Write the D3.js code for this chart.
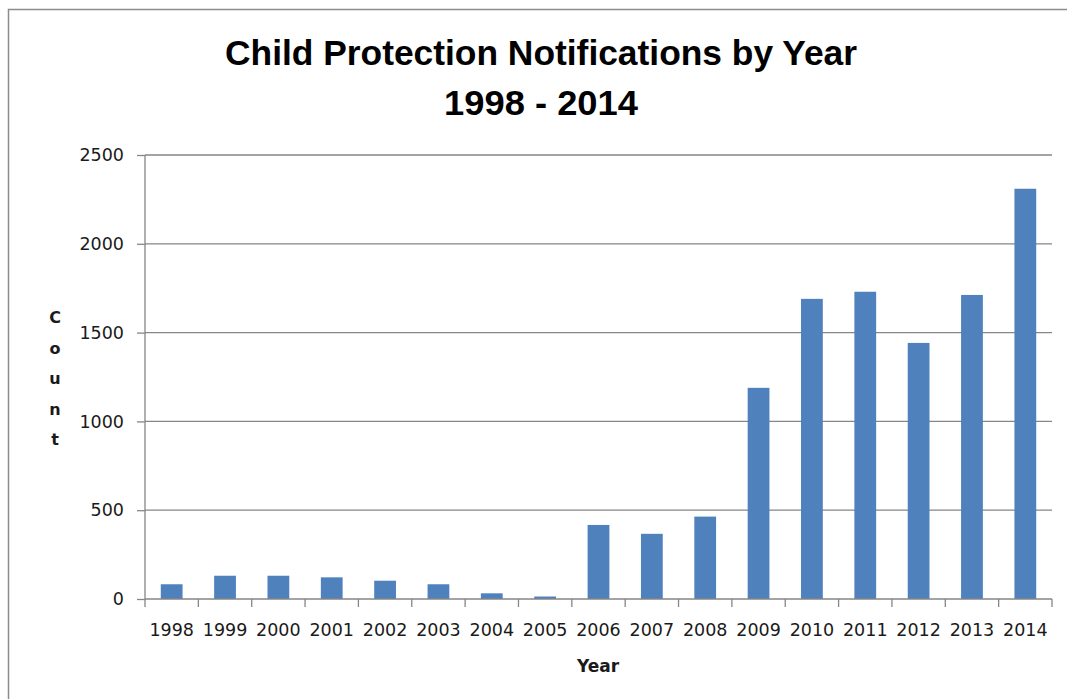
<!DOCTYPE html>
<html>
<head>
<meta charset="utf-8">
<script src="https://cdn.jsdelivr.net/npm/d3@7"></script>
<style>
  body { margin: 0; background: #fff; }
  svg { display: block; }
</style>
</head>
<body>
<div class="chart"></div>
<script>
// data
const years = ['1998','1999','2000','2001','2002','2003','2004','2005','2006',
               '2007','2008','2009','2010','2011','2012','2013','2014'];
const counts = [83, 131, 131, 122, 103, 83, 32, 14, 417,
                367, 464, 1189, 1690, 1730, 1442, 1712, 2310];
const yTicks = [0, 500, 1000, 1500, 2000, 2500];
const titleLines = ['Child Protection Notifications by Year', '1998 - 2014'];

const width = 1067;
const height = 699;
const margin = {top: 155, left: 145, right: 15, bottom: 100};

const svg = d3.select('.chart').append('svg')
  .attr('width', width)
  .attr('height', height);

// chart area border (top + left visible)
svg.append('path')
  .attr('d', 'M 8.5 ' + height + ' L 8.5 9.5 L ' + width + ' 9.5')
  .attr('fill', 'none')
  .attr('stroke', '#8c8c8c')
  .attr('stroke-width', 1.5);

const x = d3.scaleBand()
  .domain(years)
  .range([margin.left, width - margin.right]) // 145 .. 1052
  .paddingInner(0)
  .paddingOuter(0);

const y = d3.scaleLinear()
  .domain([0, 2500])
  .range([height - margin.bottom, margin.top]); // 599 .. 155

const gridColor = '#868686';
const barColor = '#4f81bd';
const labelFont = 'DejaVu Sans';

// gridlines
svg.append('g')
  .selectAll('line')
  .data(yTicks.slice(1))
  .join('line')
  .attr('x1', margin.left)
  .attr('x2', x.range()[1])
  .attr('y1', d => y(d))
  .attr('y2', d => y(d))
  .attr('stroke', gridColor)
  .attr('stroke-width', 1.3);

// bars
const barW = x.bandwidth() / 2.45;
svg.append('g')
  .selectAll('rect')
  .data(years)
  .join('rect')
  .attr('x', (d) => x(d) + (x.bandwidth() - barW) / 2)
  .attr('y', (d, i) => y(counts[i]))
  .attr('width', barW)
  .attr('height', (d, i) => y(0) - y(counts[i]))
  .attr('fill', barColor);

// y axis
const yAxis = d3.axisLeft(y)
  .tickValues(yTicks)
  .tickFormat(d3.format('d'))
  .tickSize(8)
  .tickPadding(13);

svg.append('g')
  .attr('transform', 'translate(' + margin.left + ',0)')
  .call(yAxis)
  .call(g => g.select('.domain').attr('stroke', gridColor).attr('stroke-width', 1.3)
      .attr('d', 'M0,' + y(2500) + 'V' + y(0)))
  .call(g => g.selectAll('.tick line').attr('stroke', gridColor).attr('stroke-width', 1.3))
  .call(g => g.selectAll('.tick text')
      .attr('font-family', labelFont)
      .attr('font-size', 17.5)
      .attr('fill', '#1a1a1a'));

// x axis: ticks at category boundaries
const xg = svg.append('g')
  .attr('transform', 'translate(0,' + y(0) + ')');

xg.append('line')
  .attr('x1', x.range()[0])
  .attr('x2', x.range()[1])
  .attr('stroke', gridColor)
  .attr('stroke-width', 1.3);

const bounds = years.map(d => x(d)).concat([x.range()[1]]);
xg.selectAll('line.tk')
  .data(bounds)
  .join('line')
  .attr('class', 'tk')
  .attr('x1', d => d)
  .attr('x2', d => d)
  .attr('y1', 0)
  .attr('y2', 8)
  .attr('stroke', gridColor)
  .attr('stroke-width', 1.3);

xg.selectAll('text')
  .data(years)
  .join('text')
  .attr('x', d => x(d) + x.bandwidth() / 2)
  .attr('y', 37)
  .attr('text-anchor', 'middle')
  .attr('font-family', labelFont)
  .attr('font-size', 17.5)
  .attr('fill', '#1a1a1a')
  .text(d => d);

// axis titles
svg.append('text')
  .attr('x', 598)
  .attr('y', 672)
  .attr('text-anchor', 'middle')
  .attr('font-family', labelFont)
  .attr('font-weight', 'bold')
  .attr('font-size', 17)
  .attr('fill', '#1a1a1a')
  .text('Year');

svg.append('g')
  .selectAll('text')
  .data('Count'.split(''))
  .join('text')
  .attr('x', 55)
  .attr('y', (d, i) => 323 + i * 30.5)
  .attr('text-anchor', 'middle')
  .attr('font-family', labelFont)
  .attr('font-weight', 'bold')
  .attr('font-size', 16)
  .attr('fill', '#1a1a1a')
  .text(d => d);

// title
const titleWidths = [632, 194];
svg.append('g')
  .selectAll('text')
  .data(titleLines)
  .join('text')
  .attr('x', 541)
  .attr('y', (d, i) => 65 + i * 50)
  .attr('text-anchor', 'middle')
  .attr('font-family', "'Liberation Sans Narrow', 'Liberation Sans', sans-serif")
  .attr('font-weight', 'bold')
  .attr('font-size', 35)
  .attr('textLength', (d, i) => titleWidths[i])
  .attr('lengthAdjust', 'spacingAndGlyphs')
  .attr('fill', '#000')
  .text(d => d);
</script>
</body>
</html>
